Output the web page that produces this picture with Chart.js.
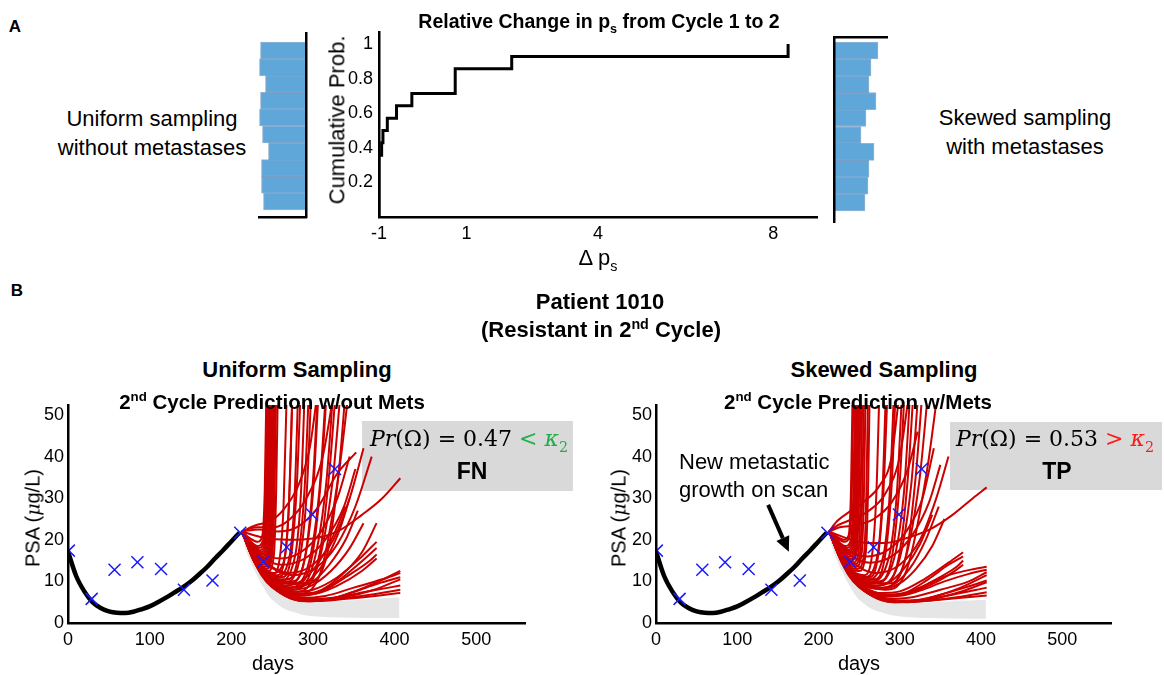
<!DOCTYPE html>
<html>
<head>
<meta charset="utf-8">
<script src="https://cdn.jsdelivr.net/npm/chart.js@4"></script>
<style>
  body { margin: 0; background: #fff; }
  #fig { position: relative; width: 1164px; height: 675px; overflow: hidden;
         font-family: 'Liberation Sans', Arial, sans-serif; color: #000; }
  #fig canvas { position: absolute; }
  .t { position: absolute; transform: translate(-50%, -50%); white-space: nowrap; line-height: 1.15; }
  .b { font-weight: bold; }
  .rot { transform: translate(-50%, -50%) rotate(-90deg); }
  .box { position: absolute; background: #d9d9d9; }
  .m { font-family: 'DejaVu Serif', serif; font-size: 22px; }
  sub, sup { font-size: 65%; line-height: 0; }
</style>
</head>
<body>
<div id="fig">
  <canvas id="histL" width="70" height="200" style="left:250px;top:25px"></canvas>
  <canvas id="cdf" width="500" height="250" style="left:330px;top:20px"></canvas>
  <canvas id="histR" width="70" height="200" style="left:825px;top:28px"></canvas>
  <div class="box" style="left:362px;top:421px;width:211px;height:70px"></div>
  <div class="box" style="left:950px;top:422px;width:212px;height:68px"></div>
  <canvas id="psaL" width="520" height="260" style="left:20px;top:395px"></canvas>
  <canvas id="psaR" width="520" height="260" style="left:608px;top:395px"></canvas>

  <div class="t b" style="left:15px;top:27px;font-size:17px">A</div>
  <div class="t" style="left:152px;top:133px;font-size:22px;text-align:center;line-height:29px">Uniform sampling<br>without metastases</div>
  <div class="t" style="left:1025px;top:132px;font-size:22px;text-align:center;line-height:29px">Skewed sampling<br>with metastases</div>
  <div class="t b" style="left:599px;top:21px;font-size:19.5px">Relative Change in p<sub>s</sub> from Cycle 1 to 2</div>
  <div class="t rot" style="left:337px;top:120px;font-size:22px">Cumulative Prob.</div>
  <div class="t" style="left:598px;top:258px;font-size:22px">&Delta; p<sub>s</sub></div>

  <div class="t b" style="left:17px;top:291px;font-size:17px">B</div>
  <div class="t b" style="left:600px;top:302px;font-size:22px">Patient 1010</div>
  <div class="t b" style="left:601px;top:330px;font-size:22px">(Resistant in 2<sup>nd</sup> Cycle)</div>
  <div class="t b" style="left:297px;top:370px;font-size:22px">Uniform Sampling</div>
  <div class="t b" style="left:884px;top:370px;font-size:22px">Skewed Sampling</div>
  <div class="t b" style="left:272px;top:402px;font-size:20.5px">2<sup>nd</sup> Cycle Prediction w/out Mets</div>
  <div class="t b" style="left:858px;top:402px;font-size:20.5px">2<sup>nd</sup> Cycle Prediction w/Mets</div>
  <div class="t rot" style="left:33px;top:518px;font-size:20px">PSA (<i class="m" style="font-size:19px">&mu;</i>g/L)</div>
  <div class="t rot" style="left:619px;top:518px;font-size:20px">PSA (<i class="m" style="font-size:19px">&mu;</i>g/L)</div>
  <div class="t" style="left:273px;top:663px;font-size:20px">days</div>
  <div class="t" style="left:859px;top:663px;font-size:20px">days</div>

  <div class="t m" style="left:469px;top:439px"><i>Pr</i>(&Omega;) = 0.47 <span style="color:#1fae4b">&lt; <i>&kappa;</i><sub>2</sub></span></div>
  <div class="t b" style="left:472px;top:471px;font-size:23px">FN</div>
  <div class="t m" style="left:1055px;top:439px"><i>Pr</i>(&Omega;) = 0.53 <span style="color:#ff1a1a">&gt; <i>&kappa;</i><sub>2</sub></span></div>
  <div class="t b" style="left:1057px;top:471px;font-size:23px">TP</div>
  <div class="t" style="left:679px;top:476px;transform:translate(0,-50%);font-size:22px;line-height:28px">New metastatic<br>growth on scan</div>
</div>

<script>
// panel A: histograms (bins listed top to bottom) and the empirical CDF
const histBins = [10, 9, 8, 7, 6, 5, 4, 3, 2, 1];
const uniformHist = [46, 47, 41, 46, 47, 44, 38, 45, 45, 43];
const skewedHist = [44, 37, 35, 42, 32, 27, 40, 35, 34, 31];

const cdfX = [-1, -1, -0.94, -0.91, -0.81, -0.6, -0.25, 0.74, 2.03, 8.34];
const cdfY = [0, 0.357, 0.429, 0.5, 0.571, 0.643, 0.714, 0.857, 0.929, 1.0];
const cdfXTicks = [-1, 1, 4, 8];
const cdfYTicks = [0.2, 0.4, 0.6, 0.8, 1];

// panel B: measured PSA, model fit of cycle 1
const visitDays = [1, 29, 57, 85, 114, 142, 177, 211, 239, 268, 299, 327];
const visitPsa = [17.4, 5.8, 12.8, 14.6, 13.0, 8.0, 10.2, 21.7, 14.7, 18.2, 26.1, 37.0];
const fitDays = [0, 10, 20, 30, 40, 50, 60, 70, 80, 90, 100, 110, 120, 130, 140, 150, 160, 170, 180, 190, 200, 210];
const fitPsa = [17.2, 11.3, 7.6, 5.0, 3.6, 2.8, 2.45, 2.4, 2.7, 3.3, 4.0, 5.0, 6.1, 7.3, 8.5, 9.9, 11.6, 13.4, 15.5, 17.5, 19.6, 21.7];
const dayTicks = [0, 100, 200, 300, 400, 500];
const psaTicks = [0, 10, 20, 30, 40, 50];

// grey envelope behind the predictions
const greyDays = [212, 218, 224, 230, 238, 246, 255, 265, 278, 292, 310, 335, 365, 406];
const uniformGreyLow = [21.5, 17.5, 14.5, 12, 9, 6.5, 4.8, 3.4, 2.5, 1.8, 1.5, 1.3, 1.2, 1.2];
const uniformGreyHigh = [22.5, 21.5, 20, 18, 15, 12.5, 10, 8, 6.3, 5.5, 5.2, 5.3, 5.7, 6.2];
const skewedGreyLow = [21.5, 17.5, 14.5, 12, 9, 6.5, 4.8, 3.4, 2.5, 1.8, 1.4, 1.2, 1.1, 1.0];
const skewedGreyHigh = [22.5, 21.5, 20, 18, 15, 12.5, 10, 8, 6.3, 5.3, 4.9, 4.9, 5.2, 5.6];

// predicted 2nd cycle trajectories [day, PSA]
const uniformRuns = [
  [[213,22],[222,20.5],[232,19.5],[238,21],[241,32],[243,56]],
  [[213,22],[222,20],[232,18.5],[239,20],[242,32],[244,56]],
  [[213,22],[223,19.5],[233,18],[240,19.5],[243,32],[245,56]],
  [[213,22],[223,19],[234,17.5],[241,19],[244,32],[246,56]],
  [[213,22],[224,18.5],[235,17],[242,18.5],[245,32],[247,56]],
  [[213,22],[224,18],[236,16.5],[243,18],[246,32],[248,56]],
  [[213,22],[225,17.5],[237,16],[244,17.5],[247,32],[249,56]],
  [[213,22],[225,17],[238,15.5],[245,17],[248,32],[250,56]],
  [[213,22],[226,16.5],[239,15],[246,17],[249,32],[251,56]],
  [[213,22],[226,16],[240,14.5],[247,16.5],[250,32],[252,56]],
  [[213,22],[227,15.5],[241,14],[248,16.5],[251,32],[253,56]],
  [[213,22],[228,15],[242,13.5],[249,16],[252,32],[254,56]],
  [[213,22],[229,14.5],[243,13],[250,16],[253,32],[255,56]],
  [[213,22],[230,14],[245,12.5],[252,16],[255,32],[257,56]],
  [[213,22],[233,14.5],[252,12],[258,14],[264,28],[268,56]],
  [[213,22],[235,13.8],[256,11.5],[264,14],[271,30],[275,56]],
  [[213,22],[238,13],[262,11],[272,14.5],[280,32],[285,56]],
  [[213,22],[241,12.2],[268,10.5],[281,15],[290,33],[295,56]],
  [[213,22],[244,11.8],[274,10],[290,15.5],[300,34],[306,56]],
  [[213,22],[247,11.2],[280,9.5],[299,16],[310,35],[317,56]],
  [[213,22],[250,10.8],[286,9.5],[308,16.5],[320,36],[328,56]],
  [[213,22],[252,10.5],[292,9.5],[318,17],[332,37],[340,56]],
  [[213,22],[232,15],[250,12],[262,13.5],[270,26],[275,56]],
  [[213,22],[234,14],[254,11],[267,13],[277,28],[282,56]],
  [[213,22],[236,13.5],[258,10],[273,12.5],[285,30],[290,56]],
  [[213,22],[238,13],[262,9.5],[279,12],[292,30],[298,56]],
  [[213,22],[240,12.5],[266,9],[285,12],[300,31],[307,56]],
  [[213,22],[242,12],[270,8.5],[291,12],[308,32],[316,56]],
  [[213,22],[244,11.5],[274,8],[297,12],[316,33],[325,56]],
  [[213,22],[246,11],[278,7.5],[303,12],[324,34],[334,56]],
  [[213,22],[248,10.5],[282,7],[309,12],[331,35],[344,56]],
  [[213,22],[230,23.5],[248,24.5],[265,27.5],[282,33],[296,42],[306,56]],
  [[213,22],[232,23],[252,23],[272,25],[292,30],[312,40],[326,56]],
  [[213,22],[234,22.5],[256,22],[280,23],[305,27.5],[330,36],[353,41]],
  [[213,22],[240,20.5],[270,20],[300,20.3],[330,22],[360,26],[385,30],[407,34.8]],
  [[213,22],[236,17],[260,15.5],[285,17],[310,22],[330,30],[345,40]],
  [[213,22],[238,16],[262,14],[290,15.5],[315,20],[338,28],[352,37]],
  [[213,22],[240,15],[270,12],[300,14],[325,20],[345,30],[362,42]],
  [[213,22],[242,14.5],[275,11.5],[305,13.5],[330,19],[352,28],[372,40]],
  [[213,22],[230,14],[250,9],[275,6.5],[300,5.8],[330,6.2],[365,7.5],[407,9]],
  [[213,22],[232,13.5],[255,8],[280,6],[305,5.5],[340,6.3],[375,8],[407,10.5]],
  [[213,22],[233,13],[258,7.5],[285,5.6],[310,5.3],[345,5.9],[407,7.2]],
  [[213,22],[235,12.5],[260,7.2],[288,5.3],[315,5.5],[350,7.5],[380,9.5],[407,11]],
  [[213,22],[236,12],[262,7],[292,5.2],[330,5.8],[370,6.8],[407,8]],
  [[213,22],[228,15],[248,10],[270,7.5],[300,7],[330,9],[360,12.5],[378,15.5]],
  [[213,22],[229,14.5],[250,9.5],[275,7.5],[300,8],[330,11],[360,16],[378,19.5]],
  [[213,22],[231,14],[253,9],[280,7],[305,7.5],[335,11.5],[360,17],[378,24]],
  [[213,22],[230,14.5],[252,10],[275,8.5],[300,10],[320,14],[340,20],[355,27]],
  [[213,22],[233,13],[256,8.5],[282,6.5],[310,7.5],[340,11],[370,15],[378,16.5]],
  [[213,22],[226,16],[245,11],[265,9],[285,10],[305,14],[325,21],[340,28]],
  [[213,22],[227,15.5],[246,10.5],[268,8.5],[290,9.5],[312,14],[332,22],[345,30]],
  [[213,22],[234,13],[258,8],[285,6],[315,6.5],[350,8.5],[385,10.5],[407,12]],
  [[213,22],[237,11.5],[264,6.8],[295,5.2],[335,6.5],[375,9.5],[407,12.5]],
  [[213,22],[229,14.8],[249,9.8],[272,8],[296,8.8],[322,12.5],[345,18],[362,24]],
  [[213,22],[232,13.8],[254,8.8],[278,6.8],[302,7.2],[330,10],[355,14],[378,18]]
];

const skewedRuns = [
  [[213,22],[221,21],[231,20],[237,21],[240,32],[242,56]],
  [[213,22],[222,20.5],[232,19.5],[238,20.5],[241,32],[243,56]],
  [[213,22],[222,20],[233,18.5],[240,20],[243,32],[245,56]],
  [[213,22],[223,19.5],[234,18],[241,19.5],[244,32],[246,56]],
  [[213,22],[224,19],[235,17.5],[242,19],[245,32],[247,56]],
  [[213,22],[224,18.5],[236,17],[243,18.5],[246,32],[248,56]],
  [[213,22],[225,18],[237,16.5],[244,18],[247,32],[249,56]],
  [[213,22],[226,17.5],[238,16],[245,17.5],[248,32],[250,56]],
  [[213,22],[226,17],[239,15.5],[246,17],[249,32],[251,56]],
  [[213,22],[227,16.5],[240,15],[247,17],[250,32],[252,56]],
  [[213,22],[228,16],[242,14.5],[249,16.5],[252,32],[254,56]],
  [[213,22],[229,15.5],[244,14],[251,16.5],[254,32],[256,56]],
  [[213,22],[230,15],[246,13.5],[253,16.5],[256,32],[258,56]],
  [[213,22],[231,14.5],[248,13],[256,16.5],[259,32],[261,56]],
  [[213,22],[232,14],[250,12.5],[258,16.5],[261,32],[263,56]],
  [[213,22],[235,13.8],[256,11.5],[264,14],[271,30],[275,56]],
  [[213,22],[238,13],[262,11],[272,14.5],[280,32],[285,56]],
  [[213,22],[241,12.2],[268,10.5],[281,15],[290,33],[295,56]],
  [[213,22],[244,11.8],[274,10],[290,15.5],[300,34],[306,56]],
  [[213,22],[247,11.2],[280,9.5],[299,16],[310,35],[317,56]],
  [[213,22],[250,10.8],[286,9.5],[308,16.5],[320,36],[328,56]],
  [[213,22],[234,14],[256,11],[268,13],[278,28],[283,56]],
  [[213,22],[236,13.5],[260,10.5],[274,12.5],[287,29],[293,56]],
  [[213,22],[238,13],[264,10],[281,12.5],[296,30],[303,56]],
  [[213,22],[240,12.5],[268,9.5],[288,12.5],[305,31],[313,56]],
  [[213,22],[242,12],[272,9],[295,12.5],[314,33],[323,56]],
  [[213,22],[245,11.5],[277,8.5],[302,12.5],[324,34],[335,56]],
  [[213,22],[248,11],[282,8],[309,13],[333,36],[347,56]],
  [[213,22],[223,24.5],[240,27],[258,29.5],[275,33],[290,40],[300,56]],
  [[213,22],[224,23.5],[242,25],[262,27],[282,31],[300,40],[312,56]],
  [[213,22],[226,23],[246,23.5],[268,25],[290,29],[310,37],[322,46]],
  [[213,22],[240,20],[262,19.2],[285,19.3],[310,20.5],[337,22.5],[365,26],[390,30],[407,32.6]],
  [[213,22],[236,17.5],[260,16],[285,17.5],[308,22],[328,30],[342,42]],
  [[213,22],[238,16.5],[263,14.5],[290,16],[315,21],[336,29],[350,38]],
  [[213,22],[240,15],[270,12],[300,14],[325,20],[345,30],[360,40]],
  [[213,22],[230,14],[250,9],[275,6.3],[300,5.4],[330,5.6],[365,6.8],[407,8.5]],
  [[213,22],[232,13.5],[255,8],[280,5.8],[305,5.2],[340,5.8],[375,7.5],[407,9.8]],
  [[213,22],[233,13],[258,7.5],[285,5.4],[310,5],[345,5.5],[407,6.6]],
  [[213,22],[235,12.5],[260,7.2],[288,5.2],[315,5.2],[350,6.8],[380,8.5],[407,10.2]],
  [[213,22],[236,12],[262,7],[292,5],[330,5.3],[370,6.2],[407,7.4]],
  [[213,22],[237,11.5],[264,6.8],[295,5],[335,6],[375,8.5],[407,11.5]],
  [[213,22],[234,13],[258,8],[285,5.8],[315,6.2],[350,8],[385,10],[407,12.2]],
  [[213,22],[228,15],[248,10],[270,7.3],[300,6.8],[330,8.5],[360,11.5],[378,14]],
  [[213,22],[229,14.5],[250,9.5],[275,7.2],[300,7.6],[330,10.5],[360,14.5],[378,17]],
  [[213,22],[231,14],[253,9],[280,6.8],[305,7.2],[335,10.5],[360,14],[378,16]],
  [[213,22],[230,14.5],[252,10],[275,8.2],[300,9.5],[320,13],[340,18.5],[355,25]],
  [[213,22],[226,16],[245,11],[265,8.8],[285,9.5],[305,13],[325,19],[340,26]],
  [[213,22],[227,15.5],[246,10.5],[268,8.3],[290,9],[312,13],[332,20],[348,28]],
  [[213,22],[233,13],[256,8.4],[282,6.3],[310,7],[340,10],[370,13.5],[378,15]],
  [[213,22],[232,13.5],[254,8.8],[278,6.6],[302,6.9],[330,9],[360,11.5],[392,13],[407,13.5]],
  [[213,22],[231,14.2],[252,9.3],[276,7],[300,6.6],[325,7.8],[355,10],[385,11.8],[407,12.8]]
];

// annotation arrow (day, PSA) in the skewed panel
const arrowTail = [138, 28.4];
const arrowTip = [163.5, 17.1];

Chart.defaults.font.family = "'Liberation Sans', Arial, sans-serif";
Chart.defaults.color = '#000';
Chart.defaults.animation = false;
Chart.defaults.events = [];
Chart.defaults.plugins.legend.display = false;
Chart.defaults.plugins.tooltip.enabled = false;

// linear axis with fixed thickness so the plot boxes land where the figure has them
function axis(opts) {
  const ticks = opts.ticks;
  return {
    type: 'linear',
    position: opts.position,
    min: opts.min,
    max: opts.max,
    reverse: !!opts.reverse,
    offset: false,
    grid: { display: false, drawTicks: false },
    border: { display: true, color: '#000', width: opts.border || 2.5, z: 1 },
    ticks: {
      display: !!opts.showTicks,
      font: { size: opts.fontSize || 17 },
      padding: opts.pad || 6,
      color: '#000',
      autoSkip: false,
      maxRotation: 0,
      callback: v => String(v)
    },
    afterBuildTicks: s => { if (ticks) s.ticks = ticks.map(v => ({ value: v })); },
    afterFit: s => {
      if (s.isHorizontal()) s.height = opts.size; else s.width = opts.size;
      s.paddingTop = s.paddingBottom = s.paddingLeft = s.paddingRight = 0;
    }
  };
}

function histChart(id, values, xMax, yMin, yMax, xPos, yPos, reverse, padding) {
  new Chart(document.getElementById(id), {
    type: 'bar',
    data: {
      datasets: [{
        data: values.map((v, i) => ({ x: v, y: histBins[i] })),
        backgroundColor: '#5fa6d9',
        borderColor: 'rgba(45,105,165,0.5)',
        borderWidth: 1,
        barPercentage: 1,
        categoryPercentage: 1
      }]
    },
    options: {
      indexAxis: 'y',
      responsive: false,
      layout: { padding },
      scales: {
        x: axis({ position: xPos, min: 0, max: xMax, reverse, size: 0 }),
        y: axis({ position: yPos, min: yMin, max: yMax, size: 0, ticks: histBins })
      }
    }
  });
}

histChart('histL', uniformHist, 47.5, 0.083, 11.036, 'bottom', 'right', true,
  { left: 9, right: 13.5, top: 8, bottom: 8 });
histChart('histR', skewedHist, 53, -0.151, 10.796, 'top', 'left', false,
  { left: 9, right: 8, top: 9, bottom: 6 });

new Chart(document.getElementById('cdf'), {
  type: 'line',
  data: {
    datasets: [{
      data: cdfX.map((x, i) => ({ x, y: cdfY[i] })),
      stepped: 'before',
      borderColor: '#000',
      borderWidth: 3,
      pointRadius: 0,
      fill: false
    }]
  },
  options: {
    responsive: false,
    layout: { padding: { top: 12, right: 13, left: 0, bottom: 0 } },
    scales: {
      x: axis({ position: 'bottom', min: -1, max: 9, size: 53, ticks: cdfXTicks, showTicks: true, fontSize: 18, pad: 6 }),
      y: axis({ position: 'left', min: 0, max: 1.07, size: 49, ticks: cdfYTicks, showTicks: true, fontSize: 18, pad: 6 })
    }
  }
});

const arrowPlugin = {
  id: 'scanArrow',
  afterDatasetsDraw(chart) {
    const { ctx, scales: { x, y } } = chart;
    const x0 = x.getPixelForValue(arrowTail[0]), y0 = y.getPixelForValue(arrowTail[1]);
    const x1 = x.getPixelForValue(arrowTip[0]), y1 = y.getPixelForValue(arrowTip[1]);
    const a = Math.atan2(y1 - y0, x1 - x0);
    const len = 15, half = 7;
    const bx = x1 - len * Math.cos(a), by = y1 - len * Math.sin(a);
    ctx.save();
    ctx.strokeStyle = '#000';
    ctx.fillStyle = '#000';
    ctx.lineWidth = 4;
    ctx.beginPath();
    ctx.moveTo(x0, y0);
    ctx.lineTo(bx, by);
    ctx.stroke();
    ctx.beginPath();
    ctx.moveTo(x1, y1);
    ctx.lineTo(bx + half * Math.sin(a), by - half * Math.cos(a));
    ctx.lineTo(bx - half * Math.sin(a), by + half * Math.cos(a));
    ctx.closePath();
    ctx.fill();
    ctx.restore();
  }
};

function psaChart(id, runs, greyLow, greyHigh, rightPad, plugins) {
  const datasets = [
    { data: greyDays.map((d, i) => ({ x: d, y: greyLow[i] })), borderWidth: 0, pointRadius: 0,
      fill: false, cubicInterpolationMode: 'monotone', order: 10 },
    { data: greyDays.map((d, i) => ({ x: d, y: greyHigh[i] })), borderWidth: 0, pointRadius: 0,
      fill: '-1', backgroundColor: '#e6e6e6', cubicInterpolationMode: 'monotone', order: 10 }
  ];
  runs.forEach(run => datasets.push({
    data: run.map(p => ({ x: p[0], y: p[1] })),
    borderColor: '#cc0000',
    borderWidth: 2,
    pointRadius: 0,
    fill: false,
    cubicInterpolationMode: 'monotone',
    order: 5
  }));
  datasets.push({
    data: fitDays.map((d, i) => ({ x: d, y: fitPsa[i] })),
    borderColor: '#000',
    borderWidth: 4.5,
    pointRadius: 0,
    fill: false,
    cubicInterpolationMode: 'monotone',
    order: 2
  });
  datasets.push({
    data: visitDays.map((d, i) => ({ x: d, y: visitPsa[i] })),
    showLine: false,
    pointStyle: 'crossRot',
    pointRadius: 8.5,
    borderColor: '#1a1aff',
    borderWidth: 1.5,
    order: 1
  });

  new Chart(document.getElementById(id), {
    type: 'line',
    data: { datasets },
    options: {
      responsive: false,
      layout: { padding: { top: 10, right: rightPad, left: 0, bottom: 0 } },
      scales: {
        x: axis({ position: 'bottom', min: 0, max: 560, size: 32, ticks: dayTicks, showTicks: true, fontSize: 18, pad: 6 }),
        y: axis({ position: 'left', min: 0, max: 52.4, size: 48, ticks: psaTicks, showTicks: true, fontSize: 18, pad: 4 })
      }
    },
    plugins
  });
}

psaChart('psaL', uniformRuns, uniformGreyLow, uniformGreyHigh, 14.8, []);
psaChart('psaR', skewedRuns, skewedGreyLow, skewedGreyHigh, 17, [arrowPlugin]);
</script>
</body>
</html>
